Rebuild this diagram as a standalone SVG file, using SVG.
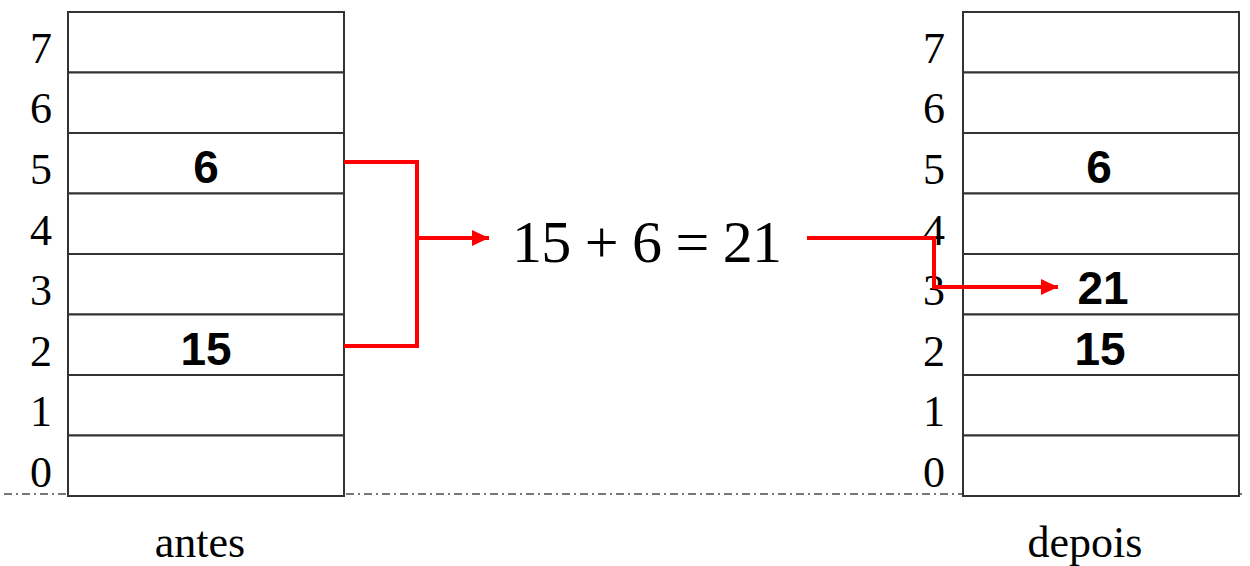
<svg xmlns="http://www.w3.org/2000/svg" width="1250" height="566" viewBox="0 0 1250 566">
<style>
.cell{fill:#fff;stroke:#333;stroke-width:2}
.idx{font-family:"Liberation Serif",serif;font-size:44px;fill:#000;text-anchor:middle}
.val{font-family:"Liberation Sans",sans-serif;font-weight:bold;font-size:46px;fill:#000;text-anchor:middle}
.cap{font-family:"Liberation Serif",serif;font-size:44px;fill:#000;text-anchor:middle}
.eq{font-family:"Liberation Serif",serif;font-size:60px;fill:#000}
.wire{fill:none;stroke:#ff0000;stroke-width:4}
.base{stroke:#777;stroke-width:2;stroke-dasharray:8 4 2 4}
</style>
<defs>
<marker id="ah" markerWidth="18" markerHeight="16" refX="17" refY="8" orient="auto" markerUnits="userSpaceOnUse">
<path d="M0,0 L17,8 L0,16 Z" fill="#ff0000"/>
</marker>
</defs>
<line class="base" x1="4" y1="494" x2="1246" y2="494"/>
<g id="antes">
<rect class="cell" x="68" y="12" width="276" height="60.5"/>
<rect class="cell" x="68" y="72.5" width="276" height="60.5"/>
<rect class="cell" x="68" y="133" width="276" height="60.5"/>
<rect class="cell" x="68" y="193.5" width="276" height="60.5"/>
<rect class="cell" x="68" y="254" width="276" height="60.5"/>
<rect class="cell" x="68" y="314.5" width="276" height="60.5"/>
<rect class="cell" x="68" y="375" width="276" height="60.5"/>
<rect class="cell" x="68" y="435.5" width="276" height="60.5"/>
<text class="idx" x="41" y="63">7</text>
<text class="idx" x="41" y="123">6</text>
<text class="idx" x="41" y="184">5</text>
<text class="idx" x="41" y="245">4</text>
<text class="idx" x="41" y="305">3</text>
<text class="idx" x="41" y="366">2</text>
<text class="idx" x="41" y="426">1</text>
<text class="idx" x="41" y="487">0</text>
<text class="val" x="206" y="183">6</text>
<text class="val" x="206" y="365">15</text>
<text class="cap" x="200" y="557">antes</text>
</g>
<g id="depois">
<rect class="cell" x="963" y="12" width="276" height="60.5"/>
<rect class="cell" x="963" y="72.5" width="276" height="60.5"/>
<rect class="cell" x="963" y="133" width="276" height="60.5"/>
<rect class="cell" x="963" y="193.5" width="276" height="60.5"/>
<rect class="cell" x="963" y="254" width="276" height="60.5"/>
<rect class="cell" x="963" y="314.5" width="276" height="60.5"/>
<rect class="cell" x="963" y="375" width="276" height="60.5"/>
<rect class="cell" x="963" y="435.5" width="276" height="60.5"/>
<text class="idx" x="934" y="63">7</text>
<text class="idx" x="934" y="123">6</text>
<text class="idx" x="934" y="184">5</text>
<text class="idx" x="934" y="245">4</text>
<text class="idx" x="934" y="305">3</text>
<text class="idx" x="934" y="366">2</text>
<text class="idx" x="934" y="426">1</text>
<text class="idx" x="934" y="487">0</text>
<text class="val" x="1099" y="183">6</text>
<text class="val" x="1103" y="304">21</text>
<text class="val" x="1100" y="365">15</text>
<text class="cap" x="1085" y="557">depois</text>
</g>
<g id="equation">
<text class="eq" x="512" y="262" textLength="270" lengthAdjust="spacing">15 + 6 = 21</text>
</g>
<g id="connectors">
<path class="wire" d="M344,162 H417 V346 H344"/>
<path class="wire" d="M417,238 H489" marker-end="url(#ah)"/>
<path class="wire" d="M807,238 H934 V287 H1058" marker-end="url(#ah)"/>
</g>
</svg>
